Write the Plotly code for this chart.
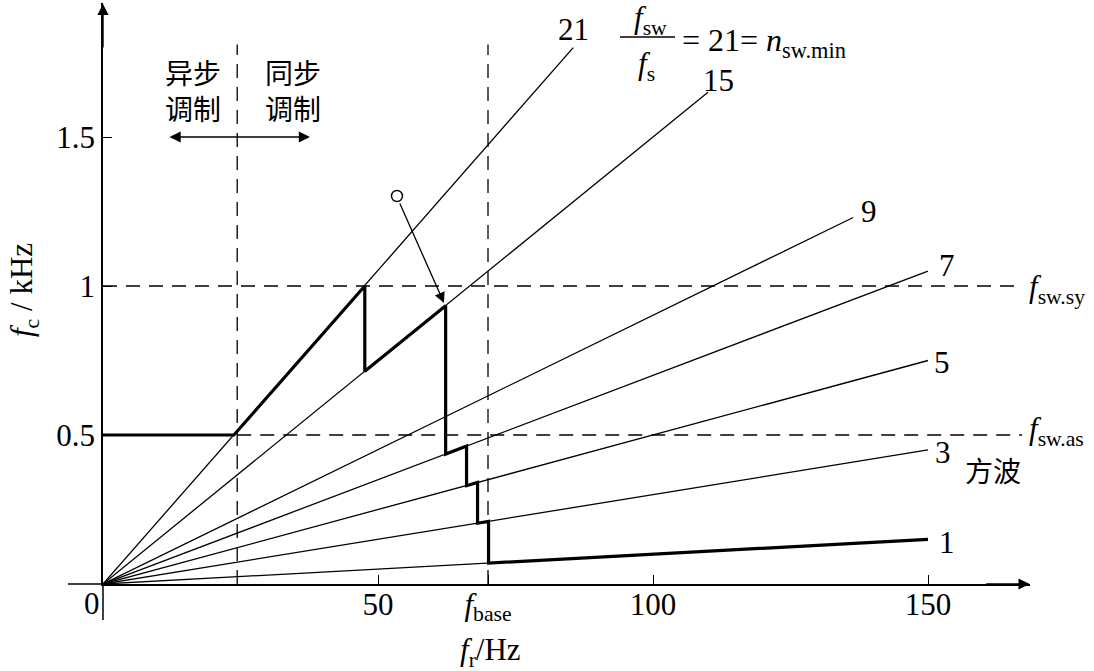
import plotly.graph_objects as go

# ---------------- data ----------------
n_values = [21, 15, 9, 7, 5, 3, 1]
line_end_fr = [85.5, 110.0, 136.4, 150.0, 150.0, 150.0, 150.0]   # Hz
line_end_fc = [1.80, 1.65, 1.23, 1.05, 0.75, 0.45, 0.15]          # kHz

path_fr = [0, 23.8, 47.6, 47.6, 62.3, 62.3, 66.1, 66.1, 68.1, 68.1, 70.1, 70.1, 150]
path_fc = [0.5, 0.5, 1.0, 0.714, 0.934, 0.436, 0.463, 0.330, 0.341, 0.204, 0.210, 0.070, 0.150]

f_sw_sy = 1.0
f_sw_as = 0.5
f_async_limit = 24.4
f_base = 70.0
dashed_top = 1.81
dashed_right = 167.1

x_tick_vals = [50, 70, 100, 150]
x_tick_text = ["50", "<i>f</i><sub>base</sub>", "100", "150"]
y_tick_vals = [0.5, 1.0, 1.5]
y_tick_text = ["0.5", "1", "1.5"]

marker_fr, marker_fc = 53.45, 1.302
arrow_tip_fr, arrow_tip_fc = 62.0, 0.943

# ---------------- styles / layout ----------------
W, H = 1094, 671
ML, MR, MT, MB = 103, 64, 3, 87
PX_PER_HZ = 5.5
PX_PER_KHZ = 298.0
X_MAX = (W - ML - MR) / PX_PER_HZ
Y_MAX = (H - MT - MB) / PX_PER_KHZ

SERIF = "Liberation Serif, Times New Roman, serif"
CJK = "Noto Sans CJK SC, sans-serif"
FS = 31
label_shift = [(0, 18), (10, 12), (16, 6), (19, 6), (14, -2), (15, -3), (19, -3)]

def paper_x(px):
    return (px - ML) / (W - ML - MR)

def paper_y(py):
    return (H - MB - py) / (H - MT - MB)

def dx(px):
    return (px - ML) / PX_PER_HZ

def dy(py):
    return (H - MB - py) / PX_PER_KHZ

fig = go.Figure()

# thin lines n = fsw/fs
for n, xe, ye in zip(n_values, line_end_fr, line_end_fc):
    fig.add_trace(go.Scatter(x=[0, xe], y=[0, ye], mode="lines",
                             line=dict(color="black", width=1.3),
                             showlegend=False, hoverinfo="skip"))

# dashed reference lines
dash = "14px,9px"
fig.add_trace(go.Scatter(x=[0, dashed_right], y=[f_sw_sy, f_sw_sy], mode="lines",
                         line=dict(color="black", width=1.3, dash=dash), showlegend=False))
fig.add_trace(go.Scatter(x=[f_async_limit, dashed_right], y=[f_sw_as, f_sw_as], mode="lines",
                         line=dict(color="black", width=1.3, dash=dash), showlegend=False))
fig.add_trace(go.Scatter(x=[f_async_limit, f_async_limit], y=[0, dashed_top], mode="lines",
                         line=dict(color="black", width=1.3, dash=dash), showlegend=False))
fig.add_trace(go.Scatter(x=[f_base, f_base], y=[0, dashed_top], mode="lines",
                         line=dict(color="black", width=1.3, dash=dash), showlegend=False))

# thick switching-frequency path
fig.add_trace(go.Scatter(x=path_fr, y=path_fc, mode="lines",
                         line=dict(color="black", width=3.2),
                         showlegend=False, hoverinfo="skip"))

# small open circle
fig.add_trace(go.Scatter(x=[marker_fr], y=[marker_fc], mode="markers",
                         marker=dict(symbol="circle-open", size=11, color="black",
                                     line=dict(width=1.4, color="black")),
                         showlegend=False, cliponaxis=False))

ann = []

def text_ann(x, y, text, ref="data", size=FS, family=SERIF, xanchor="center",
             yanchor="middle", **kw):
    d = dict(x=x, y=y, text=text, showarrow=False, xanchor=xanchor, yanchor=yanchor,
             font=dict(family=family, size=size, color="black"))
    if ref == "data":
        d.update(xref="x", yref="y")
    else:
        d.update(xref="paper", yref="paper")
    d.update(kw)
    ann.append(d)

# line labels
for n, xe, ye, (sx, sy) in zip(n_values, line_end_fr, line_end_fc, label_shift):
    text_ann(xe, ye, str(n), xshift=sx, yshift=sy)

# axis arrows
ann.append(dict(x=X_MAX - 0.05, y=0, xref="x", yref="y", ax=-45, ay=0, text="",
                showarrow=True, arrowhead=2, arrowsize=1.6, arrowwidth=1.4, arrowcolor="black"))
ann.append(dict(x=0, y=Y_MAX - 0.003, xref="x", yref="y", ax=0, ay=45, text="",
                showarrow=True, arrowhead=2, arrowsize=1.6, arrowwidth=1.4, arrowcolor="black"))

# double arrow async / sync
ann.append(dict(x=dx(310), y=1.5, xref="x", yref="y", ax=dx(168), ay=1.5, axref="x", ayref="y",
                text="", showarrow=True, arrowhead=2, arrowside="end+start",
                arrowsize=1.6, arrowwidth=1.4, arrowcolor="black"))

# pointer arrow
ann.append(dict(x=arrow_tip_fr, y=arrow_tip_fc, xref="x", yref="y",
                ax=marker_fr + 0.4, ay=marker_fc - 0.02, axref="x", ayref="y",
                text="", showarrow=True, arrowhead=2, arrowsize=1.6, arrowwidth=1.3,
                arrowcolor="black", standoff=0))

# Chinese labels
for txt, px, py in [("异步<br>调制", 193, 90), ("同步<br>调制", 293, 90), ("方波", 993, 470)]:
    text_ann(dx(px), dy(py), txt, family=CJK, size=28)

# right side labels
text_ann(X_MAX - 0.5, f_sw_sy, "<i>f</i><sub>sw.sy</sub>", xanchor="left", yshift=-3)
text_ann(X_MAX - 0.5, f_sw_as, "<i>f</i><sub>sw.as</sub>", xanchor="left", yshift=4)

# formula  fsw/fs = 21 = n_sw.min
text_ann(dx(650), dy(20), "<i>f</i><sub>sw</sub>")
text_ann(dx(646), dy(66), "<i>f</i><sub>s</sub>")
text_ann(dx(680), dy(42), "= 21= <i>n</i><sub>sw.min</sub>", xanchor="left", size=32)

# origin label and axis titles
text_ann(paper_x(92), paper_y(603), "0", ref="paper")
text_ann(paper_x(490), paper_y(652), "<i>f</i><sub>r</sub>/Hz", ref="paper")
text_ann(paper_x(24), paper_y(290), "<i>f</i><sub>c</sub> / kHz", ref="paper", textangle=-90)

shapes = [
    # fraction bar
    dict(type="line", xref="x", yref="y", x0=dx(620), x1=dx(675), y0=dy(37), y1=dy(37),
         line=dict(color="black", width=1.3)),
    # axis extensions past the origin
    dict(type="line", xref="paper", yref="paper", x0=paper_x(68), x1=0, y0=0, y1=0,
         line=dict(color="black", width=1.5)),
    dict(type="line", xref="paper", yref="paper", x0=0, x1=0, y0=0, y1=paper_y(620),
         line=dict(color="black", width=1.5)),
]

fig.update_layout(
    width=W, height=H,
    margin=dict(l=ML, r=MR, t=MT, b=MB, pad=0),
    paper_bgcolor="white", plot_bgcolor="white",
    showlegend=False,
    annotations=ann, shapes=shapes,
    xaxis=dict(range=[0, X_MAX], showgrid=False, zeroline=False,
               showline=True, linecolor="black", linewidth=1.5,
               ticks="inside", ticklen=9, tickwidth=1.3, tickcolor="black",
               ticklabelstandoff=-8,
               tickmode="array", tickvals=x_tick_vals, ticktext=x_tick_text,
               tickfont=dict(family=SERIF, size=FS, color="black")),
    yaxis=dict(range=[0, Y_MAX], showgrid=False, zeroline=False,
               showline=True, linecolor="black", linewidth=1.5,
               ticks="inside", ticklen=9, tickwidth=1.3, tickcolor="black",
               tickmode="array", tickvals=y_tick_vals, ticktext=y_tick_text,
               tickfont=dict(family=SERIF, size=FS, color="black")),
)

fig.write_html("out.html")
